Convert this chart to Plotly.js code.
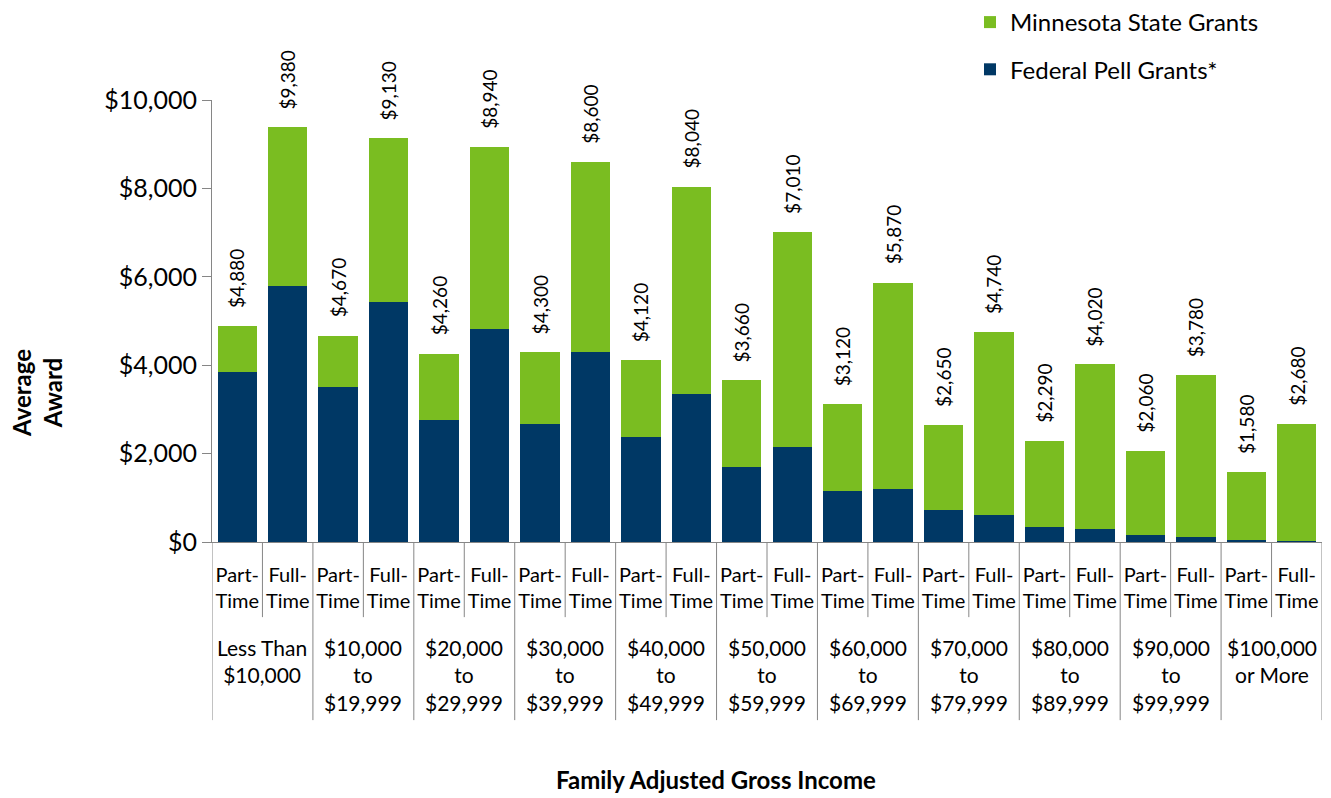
<!DOCTYPE html>
<html>
<head>
<meta charset="utf-8">
<script src="https://cdn.plot.ly/plotly-3.0.1.min.js"></script>
<style>
  html, body { margin: 0; padding: 0; background: #ffffff; }
  #chart { width: 1331px; height: 798px; }
</style>
</head>
<body>
<div id="chart"></div>
<script>
// ---- Data ----
const incomeGroups = [
  "Less Than<br>$10,000",
  "$10,000<br>to<br>$19,999",
  "$20,000<br>to<br>$29,999",
  "$30,000<br>to<br>$39,999",
  "$40,000<br>to<br>$49,999",
  "$50,000<br>to<br>$59,999",
  "$60,000<br>to<br>$69,999",
  "$70,000<br>to<br>$79,999",
  "$80,000<br>to<br>$89,999",
  "$90,000<br>to<br>$99,999",
  "$100,000<br>or More"
];
const enrollment = ["Part-<br>Time", "Full-<br>Time"];

// one value per bar, in order: group 1 part-time, group 1 full-time, group 2 part-time, ...
const pellGrants = [3850, 5790, 3510, 5430, 2770, 4820, 2680, 4300, 2370, 3350, 1690,
                    2140, 1150, 1200, 720, 610, 340, 290, 150, 110, 45, 15];
const stateGrants = [1030, 3590, 1160, 3700, 1490, 4120, 1620, 4300, 1750, 4690, 1970,
                     4870, 1970, 4670, 1930, 4130, 1950, 3730, 1910, 3670, 1535, 2665];

const seriesNames = ["Federal Pell Grants*", "Minnesota State Grants"];

const yTickValues = [0, 2000, 4000, 6000, 8000, 10000];
const yTickLabels = ["$0", "$2,000", "$4,000", "$6,000", "$8,000", "$10,000"];

// ---- Build categories ----
const cats = [], tickText = [];
incomeGroups.forEach((g, gi) => {
  enrollment.forEach((e, ei) => {
    cats.push("g" + gi + "-" + ei);
    tickText.push(e);
  });
});
const totals = pellGrants.map((v, i) => v + stateGrants[i]);

const FONT = "Lato, 'Open Sans', sans-serif";
const NAVY = "#003865";
const GREEN = "#7ABD21";
const AXIS = "#868686";

const traces = [
  { type: "bar", name: seriesNames[0], x: cats, y: pellGrants,
    marker: { color: NAVY }, legendgroup: "pell", legendrank: 2, hoverinfo: "y+name" },
  { type: "bar", name: seriesNames[1], x: cats, y: stateGrants,
    marker: { color: GREEN }, legendgroup: "state", legendrank: 1, hoverinfo: "y+name" }
];

const annotations = [];
const shapes = [];

// total labels above each bar
cats.forEach((c, i) => {
  annotations.push({
    x: c, y: totals[i], xref: "x", yref: "y",
    text: "$" + totals[i].toLocaleString("en-US"),
    textangle: -90, showarrow: false,
    xanchor: "center", yanchor: "bottom", yshift: 16,
    font: { family: FONT, size: 19, color: "#000" }
  });
});

// group labels
incomeGroups.forEach((g, gi) => {
  annotations.push({
    x: gi * 2 + 0.5, xref: "x", y: -0.205, yref: "paper",
    text: g, showarrow: false, xanchor: "center", yanchor: "top",
    font: { family: FONT, size: 21, color: "#000" }
  });
});

// dividers
const shortBottom = -0.17, longBottom = -0.403;
for (let b = 0; b <= cats.length; b++) {
  const isGroup = (b % 2 === 0);
  shapes.push({
    type: "line", xref: "x", yref: "paper",
    x0: b - 0.5, x1: b - 0.5, y0: 0, y1: isGroup ? longBottom : shortBottom,
    line: { color: AXIS, width: 1 }
  });
}

// axis titles
annotations.push({
  xref: "paper", yref: "paper", x: (716 - 212) / 1110, y: (542 - 780) / 442,
  text: "<b>Family Adjusted Gross Income</b>", showarrow: false,
  xanchor: "center", yanchor: "middle",
  font: { family: FONT, size: 24, color: "#000" }
});
annotations.push({
  xref: "paper", yref: "paper", x: (37 - 212) / 1110, y: (542 - 393) / 442,
  text: "<b>Average<br>Award</b>", showarrow: false, textangle: -90,
  xanchor: "center", yanchor: "middle",
  font: { family: FONT, size: 24, color: "#000" }
});

const layout = {
  width: 1331, height: 798,
  margin: { l: 212, r: 9, t: 100, b: 256, autoexpand: false },
  paper_bgcolor: "#fff", plot_bgcolor: "#fff",
  barmode: "stack", bargap: 0.22,
  font: { family: FONT, color: "#000" },
  showlegend: true,
  legend: {
    xref: "container", yref: "container",
    x: 970 / 1331, y: 1.015, xanchor: "left", yanchor: "top",
    traceorder: "grouped", tracegroupgap: 13,
    font: { family: FONT, size: 24, color: "#000" },
    bgcolor: "rgba(0,0,0,0)"
  },
  xaxis: {
    type: "category", categoryorder: "array", categoryarray: cats,
    tickmode: "array", tickvals: cats, ticktext: tickText,
    ticks: "", showline: true, linecolor: AXIS, linewidth: 1,
    showgrid: false, zeroline: false, tickangle: 0,
    ticklabelstandoff: 15,
    tickfont: { family: FONT, size: 20, color: "#000" },
    range: [-0.5, cats.length - 0.5], fixedrange: true
  },
  yaxis: {
    range: [0, 10000], tickmode: "array", tickvals: yTickValues, ticktext: yTickLabels,
    ticks: "outside", ticklen: 9, tickcolor: AXIS,
    showline: true, linecolor: AXIS, linewidth: 1,
    showgrid: false, zeroline: false,
    tickfont: { family: FONT, size: 25, color: "#000" },
    fixedrange: true
  },
  annotations: annotations,
  shapes: shapes
};

Plotly.newPlot("chart", traces, layout, { displayModeBar: false, staticPlot: true });
</script>
</body>
</html>
